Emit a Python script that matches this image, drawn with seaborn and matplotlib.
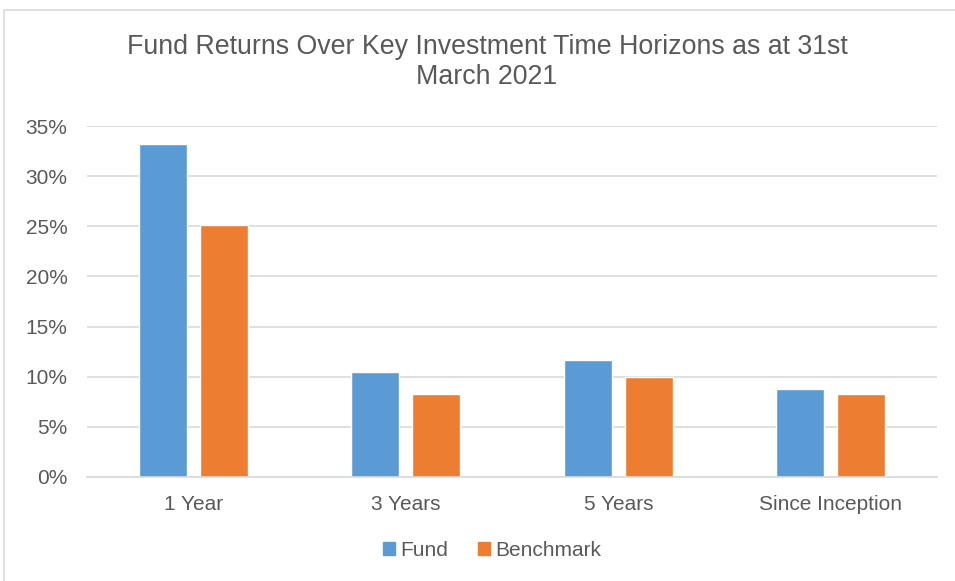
import pandas as pd
import numpy as np
import matplotlib
matplotlib.use("Agg")
import matplotlib.pyplot as plt
import matplotlib.patches as mpatches
import seaborn as sns
from matplotlib.ticker import PercentFormatter

# data
horizons = ["1 Year", "3 Years", "5 Years", "Since Inception"]
fund = [0.332, 0.105, 0.117, 0.088]
benchmark = [0.251, 0.083, 0.100, 0.083]
series = ["Fund", "Benchmark"]
colors = ["#5B9BD5", "#ED7D31"]

df = pd.DataFrame({
    "Horizon": horizons * 2,
    "Series": ["Fund"] * len(horizons) + ["Benchmark"] * len(horizons),
    "Return": fund + benchmark,
})

sns.set_style("white")
plt.rcParams["font.family"] = ["Liberation Sans", "DejaVu Sans"]

fig = plt.figure(figsize=(9.55, 5.81), dpi=100)
ax = fig.add_axes([87 / 955, 1 - 477 / 581, 850 / 955, 351 / 581])

sns.barplot(data=df, x="Horizon", y="Return", hue="Series", order=horizons,
            hue_order=series, palette=colors, width=0.574, gap=0.21,
            saturation=1, ax=ax, legend=False, errorbar=None)

ax.set_ylim(0, 0.35)
ax.set_xlim(-0.5, 3.5)
ax.set_yticks(np.arange(0, 0.351, 0.05))
ax.yaxis.set_major_formatter(PercentFormatter(1.0, decimals=0))
ax.grid(axis="y", color="#D9D9D9", linewidth=1.2)
ax.set_axisbelow(True)
for s in ["top", "right", "left"]:
    ax.spines[s].set_visible(False)
ax.spines["bottom"].set_color("#D9D9D9")
ax.spines["bottom"].set_linewidth(1.2)
ax.set_xlabel("")
ax.set_ylabel("")
ax.tick_params(axis="y", length=0, pad=14, labelsize=15, labelcolor="#595959")
ax.tick_params(axis="x", length=0, pad=13, labelsize=15, labelcolor="#595959")

fig.text(487 / 955, 1 - 62 / 581,
         "Fund Returns Over Key Investment Time Horizons as at 31st\nMarch 2021",
         ha="center", va="center", fontsize=19.3, color="#595959", linespacing=1.15)

handles = [mpatches.Patch(color=c, label=s) for s, c in zip(series, colors)]
fig.legend(handles=handles, loc="center", bbox_to_anchor=(492 / 955, 1 - 550 / 581),
           ncol=2, frameon=False, fontsize=15, labelcolor="#595959",
           handlelength=0.6, handleheight=0.6, handletextpad=0.25, columnspacing=1.4)

# chart area border
fig.patches.append(mpatches.Rectangle((4 / 955, -0.1), 1.2, 1.1 - 10 / 581,
                                      transform=fig.transFigure, fill=False,
                                      edgecolor="#D9D9D9", linewidth=1.2))

fig.savefig("out.png", dpi=100)
